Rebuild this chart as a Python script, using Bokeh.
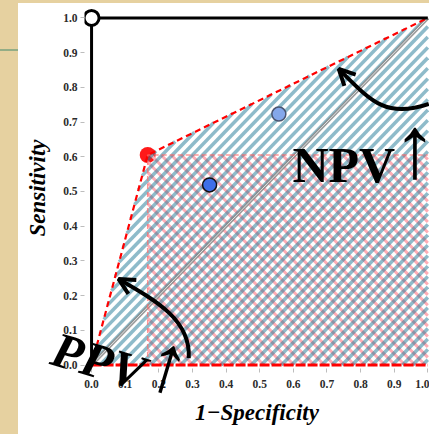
from bokeh.plotting import figure
from bokeh.models import Range1d, FixedTicker, Arrow, OpenHead, Div
from bokeh.core.properties import value
from bokeh.layouts import row, column
from bokeh.embed import file_html
from bokeh.resources import INLINE

# ---- data ----
roc_fpr = [0.0, 0.167, 1.0]
roc_tpr = [0.0, 0.605, 1.0]
test_fpr = [0.351, 0.557]
test_tpr = [0.519, 0.723]
test_colors = ["#3e6fe8", "#84a7ea"]
test_lines = ["#111111", "#4a5570"]
perfect_x = [0.0, 0.0, 1.0]
perfect_y = [0.0, 1.0, 1.0]
tick_values = [0.0, 0.1, 0.2, 0.3, 0.4, 0.5, 0.6, 0.7, 0.8, 0.9, 1.0]
tick_labels = ["0.0", "0.1", "0.2", "0.3", "0.4", "0.5", "0.6", "0.7", "0.8", "0.9", "1.0"]

# curved arrow paths (start, control 0, control 1, end)
ppv_curve = [(0.289, 0.020), (0.295, 0.127), (0.199, 0.182), (0.080, 0.248)]
npv_curve = [(1.003, 0.752), (0.875, 0.709), (0.830, 0.761), (0.735, 0.853)]

PARCH = "#e6d1a0"
HATCH_STEP = 0.03


def hatch_segments(px, py, slope, step):
    """45-degree hatch lines y = slope*x + b clipped to a convex polygon."""
    n = len(px)
    cx, cy = sum(px) / n, sum(py) / n
    vals = [y - slope * x for x, y in zip(px, py)]
    xs, ys = [], []
    b = min(vals) + step / 2
    while b < max(vals):
        t0, t1, ok = -1e9, 1e9, True
        for i in range(n):
            x1, y1 = px[i], py[i]
            x2, y2 = px[(i + 1) % n], py[(i + 1) % n]
            nx, ny = -(y2 - y1), (x2 - x1)
            if nx * (cx - x1) + ny * (cy - y1) < 0:
                nx, ny = -nx, -ny
            a = nx + ny * slope
            c = -nx * x1 + ny * (b - y1)
            if abs(a) < 1e-12:
                if c < 0:
                    ok = False
                    break
            elif a > 0:
                t0 = max(t0, -c / a)
            else:
                t1 = min(t1, -c / a)
        if ok and t1 > t0:
            xs.append([t0, t1])
            ys.append([slope * t0 + b, slope * t1 + b])
        b += step
    return xs, ys


p = figure(width=411, height=431, output_backend="svg", toolbar_location=None,
           x_range=Range1d(-0.021, 1.005), y_range=Range1d(-0.01, 1.03),
           min_border_left=66, min_border_right=0, min_border_top=4, min_border_bottom=66)
p.background_fill_color = "white"
p.border_fill_color = "white"
p.outline_line_color = None
p.grid.visible = False

# red operating point (under hatches)
p.scatter([roc_fpr[1]], [roc_tpr[1]], size=16, fill_color="#ff1a1a", line_color=None)

# pink "\" hatch in the rectangle
rect_x = [roc_fpr[1], roc_fpr[1], roc_fpr[-1], roc_fpr[-1]]
rect_y = [0.0, roc_tpr[1], roc_tpr[1], 0.0]
pxs, pys = hatch_segments(rect_x, rect_y, -1.0, HATCH_STEP)
p.multi_line(pxs, pys, line_color="#ffadb5", line_width=3)

# blue "/" hatch under the ROC curve (semi-transparent dark blue -> light blue on white)
poly_x = roc_fpr + [roc_fpr[-1]]
poly_y = roc_tpr + [0.0]
bxs, bys = hatch_segments(poly_x, poly_y, 1.0, HATCH_STEP)
p.multi_line(bxs, bys, line_color="#1e7896", line_alpha=0.5, line_width=3.5)

# chance diagonal
p.line([roc_fpr[0], roc_fpr[-1]], [roc_tpr[0], roc_tpr[-1]], line_color="#8a8a8a", line_width=3.5, line_alpha=0.85)
p.line([roc_fpr[0], roc_fpr[-1]], [roc_tpr[0], roc_tpr[-1]], line_color="#e4e4e4", line_width=1)

# dashed borders of rectangle
p.line(rect_x[:3], rect_y[:3], line_color="#ff6b6b", line_width=1.5, line_alpha=0.7, line_dash="5 3")
# ROC dashed line
p.line(roc_fpr, roc_tpr, line_color="#ff0000", line_width=2.2, line_dash="6 4")
# bottom red dashed line
p.line([roc_fpr[0], roc_fpr[-1]], [0.0, 0.0], line_color="#ff0000", line_width=3, line_dash="10 2")

# perfect classifier lines
p.line(perfect_x, perfect_y, line_color="black", line_width=3)
p.scatter([perfect_x[1]], [perfect_y[1]], size=15, fill_color="white", line_color="black", line_width=3)

# test points
p.scatter(test_fpr, test_tpr, size=14, fill_color=test_colors, line_color=test_lines, line_width=1.5)

# curved arrows
for c in (ppv_curve, npv_curve):
    p.bezier(x0=[c[0][0]], y0=[c[0][1]], cx0=[c[1][0]], cy0=[c[1][1]],
             cx1=[c[2][0]], cy1=[c[2][1]], x1=[c[3][0]], y1=[c[3][1]],
             line_color="black", line_width=4)
    tx, ty = c[3][0] - c[2][0], c[3][1] - c[2][1]
    p.add_layout(Arrow(end=OpenHead(size=16, line_width=4, line_color="black"),
                       x_start=c[3][0] - 0.12 * tx, y_start=c[3][1] - 0.12 * ty,
                       x_end=c[3][0], y_end=c[3][1], line_width=4, line_color="black"))

# big labels (overlay level so they are not clipped to the frame)
SERIF = value("Liberation Serif")
p.text(x=[0.75], y=[0.576], text=["NPV"], text_font=SERIF, text_font_style="bold",
       text_font_size="50px", text_color="black", text_align="center",
       text_baseline="middle", level="overlay")
p.text(x=[0.962], y=[0.628], text=["\u2191"], text_font=SERIF,
       text_font_size="88px", text_color="black", text_align="center",
       text_baseline="middle", level="overlay")
p.text(x=[0.021], y=[0.012], text=["PPV"], angle=-0.29, text_font=SERIF,
       text_font_style="bold italic", text_font_size="50px", text_color="black",
       text_align="center", text_baseline="middle", level="overlay")
p.text(x=[0.229], y=[0.003], text=["\u2191"], angle=-0.29, text_font=SERIF,
       text_font_size="82px", text_color="black",
       text_align="center", text_baseline="middle", level="overlay")

# axes
for ax in (p.xaxis[0], p.yaxis[0]):
    ax.ticker = FixedTicker(ticks=tick_values)
    ax.major_label_overrides = {v: s for v, s in zip(tick_values, tick_labels)}
    ax.axis_line_color = None
    ax.major_tick_line_color = "#bdbdbd"
    ax.major_tick_in = 0
    ax.major_tick_out = 4
    ax.minor_tick_line_color = None
    ax.major_label_text_font = "Liberation Serif"
    ax.major_label_text_font_style = "bold"
    ax.major_label_text_font_size = "11.5px"
    ax.major_label_text_color = "#2b2b2b"
    ax.axis_label_text_font = "Liberation Serif"
    ax.axis_label_text_font_style = "bold italic"
    ax.axis_label_text_font_size = "23px"
    ax.axis_label_text_color = "black"

p.xaxis.axis_label = "1\u2212Specificity"
p.yaxis.axis_label = "Sensitivity"
p.xaxis.major_label_standoff = 7
p.yaxis.major_label_standoff = 3
p.xaxis.axis_label_standoff = 9
p.yaxis.axis_label_standoff = 10

left = Div(width=18, height=434, margin=0, styles={"background-color": PARCH},
           text='<div style="margin-top:49px;height:2px;width:18px;background:#93ad86"></div>')
top = Div(width=411, height=3, margin=0, styles={"background-color": PARCH})
layout = row(left, column(top, p, spacing=0), spacing=0)

open("out.html", "w").write(file_html(layout, INLINE))
